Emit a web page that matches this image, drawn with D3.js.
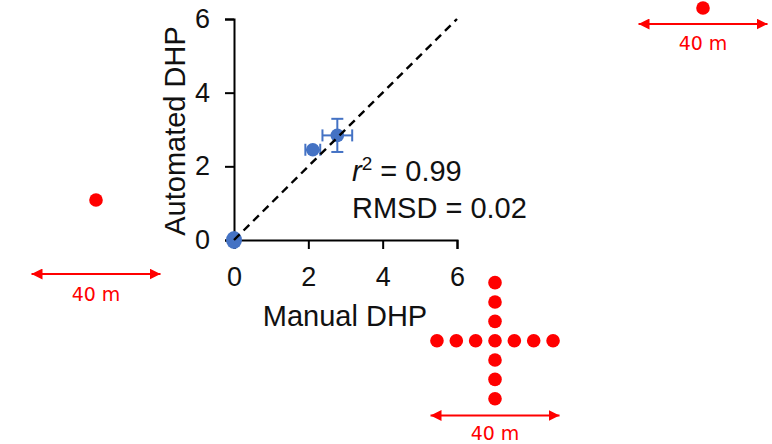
<!DOCTYPE html>
<html><head><meta charset="utf-8">
<script src="https://cdn.jsdelivr.net/npm/d3@7"></script>
<style>body{margin:0;background:#fff}svg{display:block}</style>
</head><body>
<svg id="c" width="772" height="444"></svg>
<script>
// ---- data ----
const manual = [0, 2.12, 2.78];
const automated = [0, 2.45, 2.84];
const manualErr = [0, 0.2, 0.4];
const automatedErr = [0, 0, 0.45];
const tickValues = [0, 2, 4, 6];
const stats = ["0.99", "0.02"];
const crossOffsets = [-18, -12, -6, 0, 6, 12, 18]; // metres
const scaleBar = [-20, 20]; // metres (40 m)

const svg = d3.select("#c");
const blue = "#4472C4", red = "#FF0000";
const FONT = "Liberation Sans, Arial, sans-serif";
const x = d3.scaleLinear().domain([0, 6]).range([234, 457]);
const y = d3.scaleLinear().domain([0, 6]).range([240, 19]);

// axes
const ax = svg.append("g").attr("transform", `translate(0,${y(0)})`)
  .call(d3.axisBottom(x).tickValues(tickValues).tickSize(9).tickPadding(18).tickFormat(d3.format("d")));
const ay = svg.append("g").attr("transform", `translate(${x(0)},0)`)
  .call(d3.axisLeft(y).tickValues(tickValues).tickSize(9).tickPadding(15).tickFormat(d3.format("d")));
[ax, ay].forEach(g => {
  g.selectAll("path,line").attr("stroke", "#000").attr("stroke-width", 2);
  g.selectAll("text").attr("fill", "#111").style("font-family", FONT).style("font-size", "27px");
});

// axis titles
svg.append("text").attr("x", 345).attr("y", 326).attr("text-anchor", "middle")
  .style("font-family", FONT).style("font-size", "29px").attr("fill", "#111").text("Manual DHP");
svg.append("text").attr("transform", "translate(185,131) rotate(-90)").attr("text-anchor", "middle")
  .style("font-family", FONT).style("font-size", "29px").attr("fill", "#111").text("Automated DHP");

// error bars and points
const pts = manual.map((m, i) => ({ m, a: automated[i], em: manualErr[i], ea: automatedErr[i] }));
const eb = svg.append("g").attr("stroke", blue).attr("stroke-width", 2);
pts.forEach(p => {
  if (p.em > 0) {
    eb.append("line").attr("x1", x(p.m - p.em)).attr("x2", x(p.m + p.em)).attr("y1", y(p.a)).attr("y2", y(p.a));
    [p.m - p.em, p.m + p.em].forEach(v => eb.append("line").attr("x1", x(v)).attr("x2", x(v)).attr("y1", y(p.a) - 6).attr("y2", y(p.a) + 6));
  }
  if (p.ea > 0) {
    eb.append("line").attr("y1", y(p.a - p.ea)).attr("y2", y(p.a + p.ea)).attr("x1", x(p.m)).attr("x2", x(p.m));
    [p.a - p.ea, p.a + p.ea].forEach(v => eb.append("line").attr("y1", y(v)).attr("y2", y(v)).attr("x1", x(p.m) - 6).attr("x2", x(p.m) + 6));
  }
});
svg.append("g").selectAll("ellipse").data(pts).join("ellipse")
  .attr("cx", d => x(d.m)).attr("cy", d => y(d.a))
  .attr("rx", (d, i) => i === 0 ? 8 : 6.8).attr("ry", (d, i) => i === 0 ? 9 : 6.8).attr("fill", blue);
// 1:1 dashed line drawn over the points
svg.append("line").attr("x1", x(0)).attr("y1", y(0)).attr("x2", x(6)).attr("y2", y(6))
  .attr("stroke", "#000").attr("stroke-width", 2.4).attr("stroke-dasharray", "8,5.5");

// stats text
const st = svg.append("g").style("font-family", FONT).style("font-size", "29px").attr("fill", "#111");
const t1 = st.append("text").attr("x", 352).attr("y", 181);
t1.append("tspan").style("font-style", "italic").text("r");
t1.append("tspan").attr("dy", -11).style("font-size", "19px").text("2");
t1.append("tspan").attr("dy", 11).text(" = " + stats[0]);
st.append("text").attr("x", 352).attr("y", 218).text("RMSD = " + stats[1]);

// plot layout diagrams
const m = d3.scaleLinear().domain([0, 40]).range([0, 129]); // metres -> px
svg.append("defs").append("marker").attr("id", "ah").attr("viewBox", "0 0 10 10").attr("refX", 10).attr("refY", 5)
  .attr("markerWidth", 11).attr("markerHeight", 11).attr("markerUnits", "userSpaceOnUse").attr("orient", "auto-start-reverse")
  .append("path").attr("d", "M0,0 L10,5 L0,10 Z").attr("fill", red);

function site(cx, cy, barY, labelY, cross) {
  const g = svg.append("g");
  const offs = cross ? crossOffsets : [0];
  const dots = [];
  offs.forEach(o => dots.push([o, 0]));
  if (cross) offs.filter(o => o !== 0).forEach(o => dots.push([0, o]));
  g.selectAll("circle").data(dots).join("circle")
    .attr("cx", d => cx + m(d[0])).attr("cy", d => cy + m(d[1])).attr("r", 6.8).attr("fill", red);
  g.append("line").attr("x1", cx + m(scaleBar[0])).attr("x2", cx + m(scaleBar[1])).attr("y1", barY).attr("y2", barY)
    .attr("stroke", red).attr("stroke-width", 2).attr("marker-start", "url(#ah)").attr("marker-end", "url(#ah)");
  g.append("text").attr("x", cx).attr("y", labelY).attr("text-anchor", "middle").attr("fill", red)
    .style("font-family", "DejaVu Sans, Verdana, sans-serif").style("font-size", "19px").text("40 m");
}
site(96, 200, 274, 301, false);
site(703, 8, 24, 50, false);
site(495, 340.7, 415.5, 440, true);
</script>
</body></html>
